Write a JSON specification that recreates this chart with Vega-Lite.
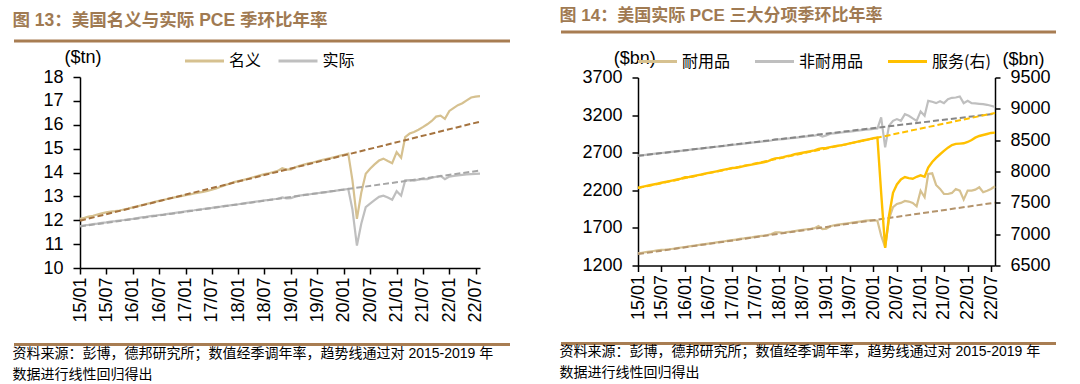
{
  "$schema": "https://vega.github.io/schema/vega-lite/v6.json",
  "background": "white",
  "padding": {"left": 12, "top": 7, "right": 0, "bottom": 0},
  "config": {
    "view": {"stroke": null},
    "font": "Liberation Sans, Noto Sans CJK SC",
    "axis": {"labelFont": "Liberation Sans", "labelFontSize": 18, "labelColor": "black", "domainColor": "black", "tickColor": "black", "domainWidth": 1.5, "tickWidth": 1.5, "grid": false, "titleFont": "Liberation Sans", "titleFontSize": 18, "titleFontWeight": "normal", "titleColor": "black"}
  },
  "datasets": {
    "L": [
      {"d":"2015-01-01","名义":12.06,"实际":11.76},{"d":"2015-02-01","名义":12.10,"实际":11.79},{"d":"2015-03-01","名义":12.15,"实际":11.81},{"d":"2015-04-01","名义":12.19,"实际":11.84},{"d":"2015-05-01","名义":12.24,"实际":11.86},{"d":"2015-06-01","名义":12.29,"实际":11.89},{"d":"2015-07-01","名义":12.33,"实际":11.91},{"d":"2015-08-01","名义":12.36,"实际":11.94},{"d":"2015-09-01","名义":12.38,"实际":11.96},{"d":"2015-10-01","名义":12.41,"实际":11.99},{"d":"2015-11-01","名义":12.45,"实际":12.01},{"d":"2015-12-01","名义":12.49,"实际":12.04},
      {"d":"2016-01-01","名义":12.54,"实际":12.06},{"d":"2016-02-01","名义":12.58,"实际":12.09},{"d":"2016-03-01","名义":12.63,"实际":12.12},{"d":"2016-04-01","名义":12.68,"实际":12.14},{"d":"2016-05-01","名义":12.72,"实际":12.17},{"d":"2016-06-01","名义":12.77,"实际":12.19},{"d":"2016-07-01","名义":12.81,"实际":12.22},{"d":"2016-08-01","名义":12.85,"实际":12.24},{"d":"2016-09-01","名义":12.90,"实际":12.27},{"d":"2016-10-01","名义":12.94,"实际":12.29},{"d":"2016-11-01","名义":12.98,"实际":12.32},{"d":"2016-12-01","名义":13.01,"实际":12.34},
      {"d":"2017-01-01","名义":13.05,"实际":12.37},{"d":"2017-02-01","名义":13.08,"实际":12.40},{"d":"2017-03-01","名义":13.12,"实际":12.42},{"d":"2017-04-01","名义":13.16,"实际":12.45},{"d":"2017-05-01","名义":13.19,"实际":12.47},{"d":"2017-06-01","名义":13.23,"实际":12.50},{"d":"2017-07-01","名义":13.28,"实际":12.52},{"d":"2017-08-01","名义":13.33,"实际":12.55},{"d":"2017-09-01","名义":13.40,"实际":12.57},{"d":"2017-10-01","名义":13.47,"实际":12.60},{"d":"2017-11-01","名义":13.53,"实际":12.62},{"d":"2017-12-01","名义":13.60,"实际":12.65},
      {"d":"2018-01-01","名义":13.64,"实际":12.67},{"d":"2018-02-01","名义":13.68,"实际":12.70},{"d":"2018-03-01","名义":13.73,"实际":12.73},{"d":"2018-04-01","名义":13.78,"实际":12.75},{"d":"2018-05-01","名义":13.83,"实际":12.78},{"d":"2018-06-01","名义":13.88,"实际":12.80},{"d":"2018-07-01","名义":13.93,"实际":12.83},{"d":"2018-08-01","名义":13.97,"实际":12.85},{"d":"2018-09-01","名义":14.02,"实际":12.88},{"d":"2018-10-01","名义":14.07,"实际":12.90},{"d":"2018-11-01","名义":14.18,"实际":12.96},{"d":"2018-12-01","名义":14.12,"实际":12.92},
      {"d":"2019-01-01","名义":14.13,"实际":12.93},{"d":"2019-02-01","名义":14.22,"实际":13.00},{"d":"2019-03-01","名义":14.28,"实际":13.03},{"d":"2019-04-01","名义":14.33,"实际":13.06},{"d":"2019-05-01","名义":14.38,"实际":13.08},{"d":"2019-06-01","名义":14.42,"实际":13.11},{"d":"2019-07-01","名义":14.47,"实际":13.13},{"d":"2019-08-01","名义":14.52,"实际":13.16},{"d":"2019-09-01","名义":14.56,"实际":13.18},{"d":"2019-10-01","名义":14.60,"实际":13.21},{"d":"2019-11-01","名义":14.65,"实际":13.23},{"d":"2019-12-01","名义":14.70,"实际":13.26},
      {"d":"2020-01-01","名义":14.74,"实际":13.28},{"d":"2020-02-01","名义":14.79,"实际":13.31},{"d":"2020-03-01","名义":13.67,"实际":12.45},{"d":"2020-04-01","名义":12.06,"实际":10.94},{"d":"2020-05-01","名义":13.15,"实际":11.85},{"d":"2020-06-01","名义":13.95,"实际":12.55},{"d":"2020-07-01","名义":14.16,"实际":12.70},{"d":"2020-08-01","名义":14.34,"实际":12.84},{"d":"2020-09-01","名义":14.50,"实际":12.98},{"d":"2020-10-01","名义":14.58,"实际":13.03},{"d":"2020-11-01","名义":14.48,"实际":12.95},{"d":"2020-12-01","名义":14.39,"实际":12.86},
      {"d":"2021-01-01","名义":14.85,"实际":13.22},{"d":"2021-02-01","名义":14.62,"实际":13.03},{"d":"2021-03-01","名义":15.48,"实际":13.67},{"d":"2021-04-01","名义":15.63,"实际":13.68},{"d":"2021-05-01","名义":15.70,"实际":13.66},{"d":"2021-06-01","名义":15.79,"实际":13.70},{"d":"2021-07-01","名义":15.90,"实际":13.73},{"d":"2021-08-01","名义":16.02,"实际":13.72},{"d":"2021-09-01","名义":16.16,"实际":13.78},{"d":"2021-10-01","名义":16.34,"实际":13.82},{"d":"2021-11-01","名义":16.38,"实际":13.86},{"d":"2021-12-01","名义":16.25,"实际":13.72},
      {"d":"2022-01-01","名义":16.58,"实际":13.83},{"d":"2022-02-01","名义":16.71,"实际":13.86},{"d":"2022-03-01","名义":16.82,"实际":13.88},{"d":"2022-04-01","名义":16.90,"实际":13.90},{"d":"2022-05-01","名义":17.02,"实际":13.92},{"d":"2022-06-01","名义":17.14,"实际":13.93},{"d":"2022-07-01","名义":17.18,"实际":13.94},{"d":"2022-08-01","名义":17.20,"实际":13.95}
    ],
    "LT": [
      {"d":"2015-01-01","nom":11.98,"real":11.74},
      {"d":"2022-08-01","nom":16.13,"real":14.08}
    ],
    "R": [
      {"d":"2015-01-01","耐用品":1362,"非耐用品":2660,"服务(右)":7741},{"d":"2015-02-01","耐用品":1370,"非耐用品":2666,"服务(右)":7754},{"d":"2015-03-01","耐用品":1377,"非耐用品":2672,"服务(右)":7767},{"d":"2015-04-01","耐用品":1385,"非耐用品":2678,"服务(右)":7780},{"d":"2015-05-01","耐用品":1393,"非耐用品":2684,"服务(右)":7793},{"d":"2015-06-01","耐用品":1400,"非耐用品":2690,"服务(右)":7807},{"d":"2015-07-01","耐用品":1407,"非耐用品":2696,"服务(右)":7820},{"d":"2015-08-01","耐用品":1410,"非耐用品":2702,"服务(右)":7833},{"d":"2015-09-01","耐用品":1416,"非耐用品":2708,"服务(右)":7846},{"d":"2015-10-01","耐用品":1423,"非耐用品":2714,"服务(右)":7859},{"d":"2015-11-01","耐用品":1431,"非耐用品":2720,"服务(右)":7872},{"d":"2015-12-01","耐用品":1439,"非耐用品":2725,"服务(右)":7885},
      {"d":"2016-01-01","耐用品":1446,"非耐用品":2731,"服务(右)":7910},{"d":"2016-02-01","耐用品":1454,"非耐用品":2737,"服务(右)":7912},{"d":"2016-03-01","耐用品":1461,"非耐用品":2743,"服务(右)":7924},{"d":"2016-04-01","耐用品":1469,"非耐用品":2749,"服务(右)":7937},{"d":"2016-05-01","耐用品":1477,"非耐用品":2755,"服务(右)":7951},{"d":"2016-06-01","耐用品":1484,"非耐用品":2761,"服务(右)":7964},{"d":"2016-07-01","耐用品":1492,"非耐用品":2767,"服务(右)":7977},{"d":"2016-08-01","耐用品":1499,"非耐用品":2773,"服务(右)":7990},{"d":"2016-09-01","耐用品":1507,"非耐用品":2779,"服务(右)":8003},{"d":"2016-10-01","耐用品":1515,"非耐用品":2784,"服务(右)":8016},{"d":"2016-11-01","耐用品":1522,"非耐用品":2791,"服务(右)":8029},{"d":"2016-12-01","耐用品":1530,"非耐用品":2797,"服务(右)":8042},
      {"d":"2017-01-01","耐用品":1537,"非耐用品":2803,"服务(右)":8055},{"d":"2017-02-01","耐用品":1545,"非耐用品":2809,"服务(右)":8060},{"d":"2017-03-01","耐用品":1553,"非耐用品":2815,"服务(右)":8072},{"d":"2017-04-01","耐用品":1560,"非耐用品":2821,"服务(右)":8085},{"d":"2017-05-01","耐用品":1568,"非耐用品":2827,"服务(右)":8098},{"d":"2017-06-01","耐用品":1575,"非耐用品":2833,"服务(右)":8110},{"d":"2017-07-01","耐用品":1583,"非耐用品":2839,"服务(右)":8122},{"d":"2017-08-01","耐用品":1591,"非耐用品":2844,"服务(右)":8135},{"d":"2017-09-01","耐用品":1598,"非耐用品":2850,"服务(右)":8148},{"d":"2017-10-01","耐用品":1606,"非耐用品":2856,"服务(右)":8160},{"d":"2017-11-01","耐用品":1618,"非耐用品":2862,"服务(右)":8190},{"d":"2017-12-01","耐用品":1640,"非耐用品":2878,"服务(右)":8210},
      {"d":"2018-01-01","耐用品":1640,"非耐用品":2876,"服务(右)":8218},{"d":"2018-02-01","耐用品":1635,"非耐用品":2880,"服务(右)":8230},{"d":"2018-03-01","耐用品":1644,"非耐用品":2886,"服务(右)":8245},{"d":"2018-04-01","耐用品":1651,"非耐用品":2892,"服务(右)":8258},{"d":"2018-05-01","耐用品":1659,"非耐用品":2898,"服务(右)":8275},{"d":"2018-06-01","耐用品":1667,"非耐用品":2904,"服务(右)":8288},{"d":"2018-07-01","耐用品":1674,"非耐用品":2910,"服务(右)":8300},{"d":"2018-08-01","耐用品":1682,"非耐用品":2916,"服务(右)":8312},{"d":"2018-09-01","耐用品":1689,"非耐用品":2922,"服务(右)":8325},{"d":"2018-10-01","耐用品":1697,"非耐用品":2928,"服务(右)":8338},{"d":"2018-11-01","耐用品":1725,"非耐用品":2940,"服务(右)":8360},{"d":"2018-12-01","耐用品":1685,"非耐用品":2915,"服务(右)":8370},
      {"d":"2019-01-01","耐用品":1690,"非耐用品":2930,"服务(右)":8375},{"d":"2019-02-01","耐用品":1722,"非耐用品":2952,"服务(右)":8390},{"d":"2019-03-01","耐用品":1735,"非耐用品":2958,"服务(右)":8400},{"d":"2019-04-01","耐用品":1743,"非耐用品":2963,"服务(右)":8410},{"d":"2019-05-01","耐用品":1750,"非耐用品":2969,"服务(右)":8420},{"d":"2019-06-01","耐用品":1758,"非耐用品":2975,"服务(右)":8432},{"d":"2019-07-01","耐用品":1765,"非耐用品":2981,"服务(右)":8448},{"d":"2019-08-01","耐用品":1773,"非耐用品":2987,"服务(右)":8462},{"d":"2019-09-01","耐用品":1781,"非耐用品":2993,"服务(右)":8476},{"d":"2019-10-01","耐用品":1788,"非耐用品":2999,"服务(右)":8490},{"d":"2019-11-01","耐用品":1796,"非耐用品":3005,"服务(右)":8503},{"d":"2019-12-01","耐用品":1800,"非耐用品":3011,"服务(右)":8516},
      {"d":"2020-01-01","耐用品":1800,"非耐用品":3017,"服务(右)":8530},{"d":"2020-02-01","耐用品":1795,"非耐用品":3022,"服务(右)":8540},{"d":"2020-03-01","耐用品":1598,"非耐用品":3169,"服务(右)":7661},{"d":"2020-04-01","耐用品":1444,"非耐用品":2771,"服务(右)":6782},{"d":"2020-05-01","耐用品":1820,"非耐用品":3058,"服务(右)":7294},{"d":"2020-06-01","耐用品":1975,"非耐用品":3124,"服务(右)":7661},{"d":"2020-07-01","耐用品":2019,"非耐用品":3147,"服务(右)":7794},{"d":"2020-08-01","耐用品":2032,"非耐用品":3124,"服务(右)":7874},{"d":"2020-09-01","耐用品":2059,"非耐用品":3213,"服务(右)":7911},{"d":"2020-10-01","耐用品":2050,"非耐用品":3191,"服务(右)":7895},{"d":"2020-11-01","耐用品":2032,"非耐用品":3156,"服务(右)":7884},{"d":"2020-12-01","耐用品":1988,"非耐用品":3124,"服务(右)":7916},
      {"d":"2021-01-01","耐用品":2195,"非耐用品":3249,"服务(右)":7938},{"d":"2021-02-01","耐用品":2108,"非耐用品":3191,"服务(右)":7916},{"d":"2021-03-01","耐用品":2417,"非耐用品":3390,"服务(右)":8061},{"d":"2021-04-01","耐用品":2426,"非耐用品":3377,"服务(右)":8151},{"d":"2021-05-01","耐用品":2271,"非耐用品":3359,"服务(右)":8216},{"d":"2021-06-01","耐用品":2218,"非耐用品":3385,"服务(右)":8275},{"d":"2021-07-01","耐用品":2151,"非耐用品":3359,"服务(右)":8328},{"d":"2021-08-01","耐用品":2151,"非耐用品":3412,"服务(右)":8381},{"d":"2021-09-01","耐用品":2165,"非耐用品":3430,"服务(右)":8423},{"d":"2021-10-01","耐用品":2218,"非耐用品":3434,"服务(右)":8440},{"d":"2021-11-01","耐用品":2195,"非耐用品":3448,"服务(右)":8445},{"d":"2021-12-01","耐用品":2076,"非耐用品":3359,"服务(右)":8450},
      {"d":"2022-01-01","耐用品":2195,"非耐用品":3390,"服务(右)":8471},{"d":"2022-02-01","耐用品":2195,"非耐用品":3359,"服务(右)":8503},{"d":"2022-03-01","耐用品":2209,"非耐用品":3355,"服务(右)":8540},{"d":"2022-04-01","耐用品":2240,"非耐用品":3350,"服务(右)":8567},{"d":"2022-05-01","耐用品":2174,"非耐用品":3346,"服务(右)":8583},{"d":"2022-06-01","耐用品":2195,"非耐用品":3337,"服务(右)":8599},{"d":"2022-07-01","耐用品":2218,"非耐用品":3324,"服务(右)":8615},{"d":"2022-08-01","耐用品":2254,"非耐用品":3310,"服务(右)":8620}
    ],
    "RT": [
      {"d":"2015-01-01","dur":1352,"nondur":2658,"svc":7735},
      {"d":"2022-08-01","dur":2035,"nondur":3218,"svc":8935}
    ],
    "one": [{"k": 1}]
  },
  "resolve": {"scale": {"color": "independent"}, "legend": {"color": "independent"}},
  "spacing": 47,
  "hconcat": [
    {
      "spacing": 5,
      "resolve": {"scale": {"color": "independent"}, "legend": {"color": "independent"}},
      "vconcat": [
        {
          "width": 496, "height": 10,
          "data": {"name": "one"},
          "title": {"text": "图 13：美国名义与实际 PCE 季环比年率", "anchor": "start", "orient": "top", "offset": 1.5, "fontSize": 17.5, "fontWeight": "bold", "color": "#a07a52", "font": "Liberation Sans, Noto Sans CJK SC"},
          "mark": {"type": "rule", "color": "#a87d52", "strokeWidth": 3},
          "encoding": {"y": {"datum": 0, "type": "quantitative", "scale": {"domain": [0, 1]}, "axis": null}}
        },
        {
          "spacing": 0,
          "resolve": {"scale": {"color": "independent"}, "legend": {"color": "independent"}},
          "hconcat": [
            {
              "width": 0, "height": 0,
              "data": {"name": "one"},
              "mark": {"type": "rule", "strokeWidth": 0, "opacity": 0},
              "encoding": {}
            },
            {
              "width": 400, "height": 191,
              "encoding": {
                "x": {"field": "d", "type": "temporal", "scale": {"type": "utc", "domain": [{"year": 2015, "month": 1, "date": 1, "utc": true}, {"year": 2022, "month": 8, "date": 1, "utc": true}]},
                      "axis": {"format": "%y/%m", "tickCount": {"interval": "month", "step": 6}, "labelAngle": 270, "labelFlush": false, "labelOverlap": false, "labelPadding": 3, "tickSize": 6, "title": null}}
              },
              "layer": [
                {
                  "data": {"name": "L"},
                  "transform": [{"fold": ["名义", "实际"], "as": ["k", "v"]}],
                  "mark": {"type": "line", "strokeWidth": 2.2},
                  "encoding": {
                    "y": {"field": "v", "type": "quantitative", "scale": {"domain": [10, 18], "nice": false, "zero": false},
                          "axis": {"title": "($tn)", "titleAngle": 0, "titleX": -16, "titleY": -19.7, "titleAlign": "left", "titleBaseline": "middle", "values": [10, 11, 12, 13, 14, 15, 16, 17, 18], "tickCount": 12, "format": "d", "labelOverlap": false, "tickSize": 7, "labelPadding": 10, "minExtent": 46}},
                    "color": {"field": "k", "type": "nominal", "scale": {"domain": ["名义", "实际"], "range": ["#d6c190", "#bfbfbf"]},
                              "legend": {"orient": "none", "legendX": 105, "legendY": -24, "direction": "horizontal", "title": null, "symbolType": "M-3,0H3", "symbolSize": 169, "symbolStrokeWidth": 3, "symbolOffset": 11.5, "labelOffset": 16.5, "labelFontSize": 16, "labelFont": "Noto Sans CJK SC", "labelColor": "black", "columnPadding": 10.5}}
                  }
                },
                {
                  "data": {"name": "LT"},
                  "mark": {"type": "line", "color": "#a5733f", "strokeWidth": 2, "strokeDash": [6, 3]},
                  "encoding": {"y": {"field": "nom", "type": "quantitative", "scale": {"domain": [10, 18], "nice": false, "zero": false}}}
                },
                {
                  "data": {"name": "LT"},
                  "mark": {"type": "line", "color": "#a6a6a6", "strokeWidth": 2, "strokeDash": [6, 3]},
                  "encoding": {"y": {"field": "real", "type": "quantitative", "scale": {"domain": [10, 18], "nice": false, "zero": false}}}
                }
              ]
            }
          ]
        },
        {
          "width": 496, "height": 16.5,
          "data": {"name": "one"},
          "title": {"text": ["资料来源：彭博，德邦研究所；数值经季调年率，趋势线通过对 2015-2019 年", "数据进行线性回归得出"], "anchor": "start", "orient": "bottom", "offset": 0.5, "fontSize": 14, "lineHeight": 21, "fontWeight": "normal", "color": "black", "font": "Liberation Sans, Noto Sans CJK SC"},
          "mark": {"type": "rule", "color": "#a87d52", "strokeWidth": 3},
          "encoding": {"y": {"datum": 0, "type": "quantitative", "scale": {"domain": [0, 1]}, "axis": null}}
        }
      ]
    },
    {
      "spacing": 15.5,
      "resolve": {"scale": {"color": "independent"}, "legend": {"color": "independent"}},
      "vconcat": [
        {
          "width": 495, "height": 1,
          "data": {"name": "one"},
          "title": {"text": "图 14：美国实际 PCE 三大分项季环比年率", "anchor": "start", "orient": "top", "offset": 5.3, "fontSize": 17, "fontWeight": "bold", "color": "#a07a52", "font": "Liberation Sans, Noto Sans CJK SC"},
          "mark": {"type": "rule", "color": "#a87d52", "strokeWidth": 3},
          "encoding": {"y": {"datum": 0, "type": "quantitative", "scale": {"domain": [0, 1]}, "axis": null}}
        },
        {
          "spacing": 0,
          "resolve": {"scale": {"color": "independent"}, "legend": {"color": "independent"}},
          "hconcat": [
            {
              "width": 0, "height": 0,
              "data": {"name": "one"},
              "mark": {"type": "rule", "strokeWidth": 0, "opacity": 0},
              "encoding": {}
            },
            {
              "width": 357, "height": 188,
              "encoding": {
                "x": {"field": "d", "type": "temporal", "scale": {"type": "utc", "domain": [{"year": 2015, "month": 1, "date": 1, "utc": true}, {"year": 2022, "month": 8, "date": 1, "utc": true}]},
                      "axis": {"format": "%y/%m", "tickCount": {"interval": "month", "step": 6}, "labelAngle": 270, "labelFlush": false, "labelOverlap": false, "labelPadding": 3, "tickSize": 6, "title": null}}
              },
              "layer": [
                {
                  "layer": [
                    {
                      "data": {"name": "R"},
                      "transform": [{"fold": ["耐用品", "非耐用品"], "as": ["k", "v"]}],
                      "mark": {"type": "line", "strokeWidth": 2.2},
                      "encoding": {
                        "y": {"field": "v", "type": "quantitative", "scale": {"domain": [1200, 3700], "nice": false, "zero": false},
                              "axis": {"orient": "left", "title": "($bn)", "titleAngle": 0, "titleX": -24.7, "titleY": -18.8, "titleAlign": "left", "titleBaseline": "middle", "values": [1200, 1700, 2200, 2700, 3200, 3700], "tickCount": 12, "format": "d", "labelOverlap": false, "tickSize": 6, "labelPadding": 10, "minExtent": 56}},
                        "color": {"field": "k", "type": "nominal", "scale": {"domain": ["耐用品", "非耐用品", "服务(右)"], "range": ["#d6c190", "#bfbfbf", "#ffc000"]},
                                  "legend": {"orient": "none", "legendX": 0, "legendY": -24, "direction": "horizontal", "title": null, "symbolType": "M-3,0H3", "symbolSize": 169, "symbolStrokeWidth": 3, "symbolOffset": 11.5, "labelOffset": 16.5, "labelFontSize": 16, "labelFont": "Noto Sans CJK SC", "labelColor": "black", "columnPadding": 18}}
                      }
                    },
                    {
                      "data": {"name": "RT"},
                      "mark": {"type": "line", "color": "#b4946c", "strokeWidth": 2, "strokeDash": [6, 3]},
                      "encoding": {"y": {"field": "dur", "type": "quantitative", "scale": {"domain": [1200, 3700], "nice": false, "zero": false}}}
                    },
                    {
                      "data": {"name": "RT"},
                      "mark": {"type": "line", "color": "#868686", "strokeWidth": 2, "strokeDash": [6, 3]},
                      "encoding": {"y": {"field": "nondur", "type": "quantitative", "scale": {"domain": [1200, 3700], "nice": false, "zero": false}}}
                    }
                  ]
                },
                {
                  "layer": [
                    {
                      "data": {"name": "R"},
                      "transform": [{"fold": ["服务(右)"], "as": ["k", "v"]}],
                      "mark": {"type": "line", "strokeWidth": 2.4},
                      "encoding": {
                        "y": {"field": "v", "type": "quantitative", "scale": {"domain": [6500, 9500], "nice": false, "zero": false},
                              "axis": {"orient": "right", "title": "($bn)", "titleAngle": 0, "titleX": 7, "titleY": -17.6, "titleAlign": "left", "titleBaseline": "middle", "values": [6500, 7000, 7500, 8000, 8500, 9000, 9500], "tickCount": 12, "format": "d", "labelOverlap": false, "tickSize": 5, "labelPadding": 10}},
                        "color": {"field": "k", "type": "nominal", "scale": {"domain": ["耐用品", "非耐用品", "服务(右)"], "range": ["#d6c190", "#bfbfbf", "#ffc000"]}}
                      }
                    },
                    {
                      "data": {"name": "RT"},
                      "mark": {"type": "line", "color": "#ffc000", "strokeWidth": 2, "strokeDash": [6, 3]},
                      "encoding": {"y": {"field": "svc", "type": "quantitative", "scale": {"domain": [6500, 9500], "nice": false, "zero": false}}}
                    }
                  ]
                }
              ],
              "resolve": {"scale": {"y": "independent"}}
            }
          ]
        },
        {
          "width": 495, "height": 7.4,
          "data": {"name": "one"},
          "title": {"text": ["资料来源：彭博，德邦研究所；数值经季调年率，趋势线通过对 2015-2019 年", "数据进行线性回归得出"], "anchor": "start", "orient": "bottom", "offset": 0.5, "fontSize": 14, "lineHeight": 21, "fontWeight": "normal", "color": "black", "font": "Liberation Sans, Noto Sans CJK SC"},
          "mark": {"type": "rule", "color": "#a87d52", "strokeWidth": 3},
          "encoding": {"y": {"datum": 0, "type": "quantitative", "scale": {"domain": [0, 1]}, "axis": null}}
        }
      ]
    }
  ]
}
